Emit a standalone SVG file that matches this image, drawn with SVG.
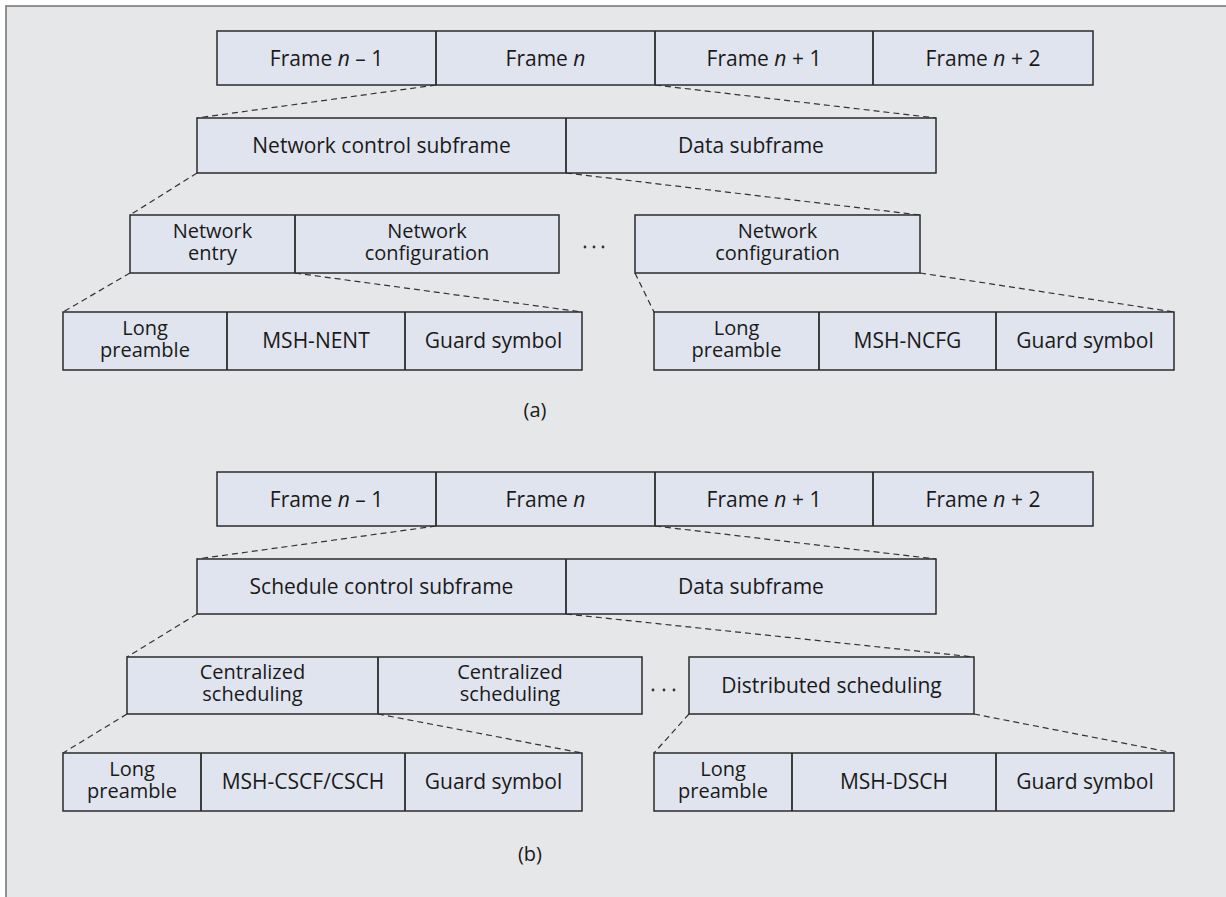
<svg xmlns="http://www.w3.org/2000/svg" width="1226" height="897" viewBox="0 0 1226 897">
<style>
.bg{fill:#e6e7e9;stroke:#7a7a7a;stroke-width:1.6}
.box{fill:#e0e4ee;stroke:#2b2b2b;stroke-width:1.5}
.div{stroke:#2b2b2b;stroke-width:1.8}
.dash{stroke:#333;stroke-width:1.2;stroke-dasharray:6 4;fill:none}
text{font-family:"Open Sans","Noto Sans","Liberation Sans",sans-serif;font-size:21px;fill:#1a1a1a;text-anchor:middle}
.two{font-size:20px}
.lbl{font-size:20px}
.it{font-style:italic}
.dot{fill:#333}
</style>
<rect class="bg" x="6" y="6" width="1240" height="910"/>

<g id="connectors">
<line class="dash" x1="436" y1="85" x2="197" y2="118"/>
<line class="dash" x1="655" y1="85" x2="936" y2="118"/>
<line class="dash" x1="197" y1="173" x2="130" y2="215"/>
<line class="dash" x1="566" y1="173" x2="920" y2="215"/>
<line class="dash" x1="130" y1="273" x2="63" y2="312"/>
<line class="dash" x1="295" y1="273" x2="582" y2="312"/>
<line class="dash" x1="635" y1="273" x2="654" y2="312"/>
<line class="dash" x1="920" y1="273" x2="1174" y2="312"/>

<line class="dash" x1="436" y1="526" x2="197" y2="559"/>
<line class="dash" x1="655" y1="526" x2="936" y2="559"/>
<line class="dash" x1="197" y1="614" x2="127" y2="657"/>
<line class="dash" x1="566" y1="614" x2="974" y2="657"/>
<line class="dash" x1="127" y1="714" x2="63" y2="753"/>
<line class="dash" x1="378" y1="714" x2="582" y2="753"/>
<line class="dash" x1="689" y1="714" x2="654" y2="753"/>
<line class="dash" x1="974" y1="714" x2="1174" y2="753"/>
</g>

<!-- (a) -->
<g id="a-frames">
<rect class="box" x="217" y="31" width="876" height="54"/>
<line class="div" x1="436" y1="31" x2="436" y2="85"/>
<line class="div" x1="655" y1="31" x2="655" y2="85"/>
<line class="div" x1="873" y1="31" x2="873" y2="85"/>
<text x="326.5" y="66">Frame <tspan class="it">n</tspan> – 1</text>
<text x="545.5" y="66">Frame <tspan class="it">n</tspan></text>
<text x="764" y="66">Frame <tspan class="it">n</tspan> + 1</text>
<text x="983" y="66">Frame <tspan class="it">n</tspan> + 2</text>
</g>
<g id="a-subframes">
<rect class="box" x="197" y="118" width="739" height="55"/>
<line class="div" x1="566" y1="118" x2="566" y2="173"/>
<text x="381.5" y="153">Network control subframe</text>
<text x="751" y="153">Data subframe</text>
</g>
<g id="a-entry">
<rect class="box" x="130" y="215" width="429" height="58"/>
<line class="div" x1="295" y1="215" x2="295" y2="273"/>
<text class="two" x="212.5" y="238"><tspan x="212.5">Network</tspan><tspan x="212.5" dy="22">entry</tspan></text>
<text class="two" x="427" y="238"><tspan x="427">Network</tspan><tspan x="427" dy="22">configuration</tspan></text>
</g>
<g id="a-dots">
<circle class="dot" cx="585" cy="247" r="1.4"/>
<circle class="dot" cx="594" cy="247" r="1.4"/>
<circle class="dot" cx="603" cy="247" r="1.4"/>
</g>
<g id="a-config">
<rect class="box" x="635" y="215" width="285" height="58"/>
<text class="two" x="777.5" y="238"><tspan x="777.5">Network</tspan><tspan x="777.5" dy="22">configuration</tspan></text>
</g>
<g id="a-nent">
<rect class="box" x="63" y="312" width="519" height="58"/>
<line class="div" x1="227" y1="312" x2="227" y2="370"/>
<line class="div" x1="405" y1="312" x2="405" y2="370"/>
<text class="two" x="145" y="335"><tspan x="145">Long</tspan><tspan x="145" dy="22">preamble</tspan></text>
<text x="316" y="348">MSH-NENT</text>
<text x="493.5" y="348">Guard symbol</text>
</g>
<g id="a-ncfg">
<rect class="box" x="654" y="312" width="520" height="58"/>
<line class="div" x1="819" y1="312" x2="819" y2="370"/>
<line class="div" x1="996" y1="312" x2="996" y2="370"/>
<text class="two" x="736.5" y="335"><tspan x="736.5">Long</tspan><tspan x="736.5" dy="22">preamble</tspan></text>
<text x="907.5" y="348">MSH-NCFG</text>
<text x="1085" y="348">Guard symbol</text>
</g>
<g id="a-label"><text class="lbl" x="535" y="417">(a)</text></g>

<!-- (b) -->
<g id="b-frames">
<rect class="box" x="217" y="472" width="876" height="54"/>
<line class="div" x1="436" y1="472" x2="436" y2="526"/>
<line class="div" x1="655" y1="472" x2="655" y2="526"/>
<line class="div" x1="873" y1="472" x2="873" y2="526"/>
<text x="326.5" y="507">Frame <tspan class="it">n</tspan> – 1</text>
<text x="545.5" y="507">Frame <tspan class="it">n</tspan></text>
<text x="764" y="507">Frame <tspan class="it">n</tspan> + 1</text>
<text x="983" y="507">Frame <tspan class="it">n</tspan> + 2</text>
</g>
<g id="b-subframes">
<rect class="box" x="197" y="559" width="739" height="55"/>
<line class="div" x1="566" y1="559" x2="566" y2="614"/>
<text x="381.5" y="594">Schedule control subframe</text>
<text x="751" y="594">Data subframe</text>
</g>
<g id="b-central">
<rect class="box" x="127" y="657" width="515" height="57"/>
<line class="div" x1="378" y1="657" x2="378" y2="714"/>
<text class="two" x="252.5" y="679"><tspan x="252.5">Centralized</tspan><tspan x="252.5" dy="22">scheduling</tspan></text>
<text class="two" x="510" y="679"><tspan x="510">Centralized</tspan><tspan x="510" dy="22">scheduling</tspan></text>
</g>
<g id="b-dots">
<circle class="dot" cx="653" cy="690" r="1.4"/>
<circle class="dot" cx="664" cy="690" r="1.4"/>
<circle class="dot" cx="674" cy="690" r="1.4"/>
</g>
<g id="b-distributed">
<rect class="box" x="689" y="657" width="285" height="57"/>
<text x="831.5" y="693">Distributed scheduling</text>
</g>
<g id="b-cscf">
<rect class="box" x="63" y="753" width="519" height="58"/>
<line class="div" x1="201" y1="753" x2="201" y2="811"/>
<line class="div" x1="405" y1="753" x2="405" y2="811"/>
<text class="two" x="132" y="776"><tspan x="132">Long</tspan><tspan x="132" dy="22">preamble</tspan></text>
<text x="303" y="789">MSH-CSCF/CSCH</text>
<text x="493.5" y="789">Guard symbol</text>
</g>
<g id="b-dsch">
<rect class="box" x="654" y="753" width="520" height="58"/>
<line class="div" x1="792" y1="753" x2="792" y2="811"/>
<line class="div" x1="996" y1="753" x2="996" y2="811"/>
<text class="two" x="723" y="776"><tspan x="723">Long</tspan><tspan x="723" dy="22">preamble</tspan></text>
<text x="894" y="789">MSH-DSCH</text>
<text x="1085" y="789">Guard symbol</text>
</g>
<g id="b-label"><text class="lbl" x="530" y="861">(b)</text></g>
</svg>
